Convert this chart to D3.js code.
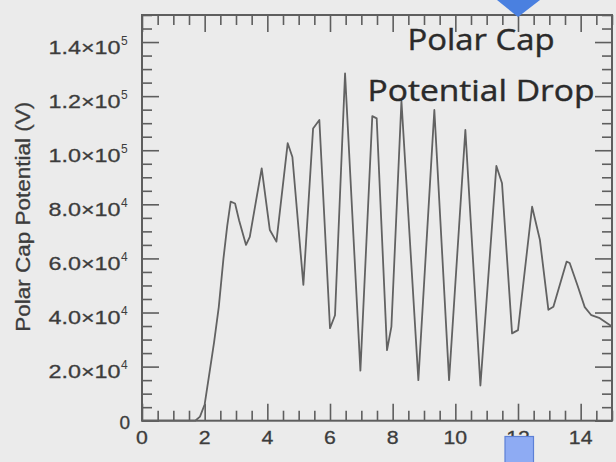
<!DOCTYPE html>
<html>
<head>
<meta charset="utf-8">
<script src="https://cdn.jsdelivr.net/npm/d3@7/dist/d3.min.js"></script>
<style>
  html, body { margin: 0; padding: 0; background: #ebebeb; }
  svg { display: block; }
</style>
</head>
<body>
<svg id="chart" width="616" height="462"></svg>
<script>
// Time (hours) and cross polar cap potential (V)
const hours = [0, 1.7, 1.85, 2.0, 2.17, 2.3, 2.45, 2.6, 2.72, 2.83, 2.97, 3.1, 3.32, 3.44,
  3.82, 4.08, 4.29, 4.65, 4.8, 5.15, 5.46, 5.66, 6.0, 6.16, 6.48, 6.97, 7.35, 7.49,
  7.82, 7.96, 8.28, 8.82, 9.33, 9.8, 10.32, 10.8, 11.31, 11.49, 11.81, 12.0, 12.45,
  12.7, 12.97, 13.13, 13.55, 13.65, 13.9, 14.13, 14.34, 14.61, 15.0];
const potential = [0, 0, 1500, 6000, 19000, 29000, 42000, 60000, 72000, 81000, 80300, 74000,
  65000, 68000, 93300, 70500, 66200, 102600, 97500, 50200, 108000, 111200, 34200, 39000,
  128400, 18500, 112600, 111800, 26100, 34800, 118200, 15000, 114900, 15000, 107500,
  13000, 94200, 87800, 32300, 33500, 79100, 66800, 41000, 42100, 58800, 58300, 50000,
  42000, 39000, 37900, 34800];

const xMajorTicks = [0, 2, 4, 6, 8, 10, 12, 14];
const xTickLabels = ["0", "2", "4", "6", "8", "10", "12", "14"];
const yMajorTicks = [0, 20000, 40000, 60000, 80000, 100000, 120000, 140000];
const yTickMantissa = ["0", "2.0", "4.0", "6.0", "8.0", "1.0", "1.2", "1.4"];
const yTickExponent = ["", "4", "4", "4", "4", "5", "5", "5"];
const yTitle = "Polar Cap Potential (V)";
const noteLines = ["Polar Cap", "Potential Drop"];

const svg = d3.select("#chart");
const plotL = 142, plotR = 612, plotT = 15, plotB = 420.7;

const x = d3.scaleLinear().domain([0, 15]).range([plotL, plotR]);
const y = d3.scaleLinear().domain([0, 150000]).range([plotB, plotT]);

const axisColor = "#5e5e5e";
const xMinor = d3.range(0, 15.001, 0.5).filter(v => v % 2 !== 0);
const yMinor = d3.range(0, 150001, 5000).filter(v => v % 20000 !== 0);

function styleAxis(g) {
  g.select(".domain").remove();
  g.selectAll("line").attr("stroke", axisColor).attr("stroke-width", 1.6);
  g.selectAll("text").remove();
}

// Ticks point inward on all four sides
svg.append("g").attr("transform", `translate(0,${plotB})`)
  .call(d3.axisBottom(x).tickValues(xMajorTicks).tickSize(-17)).call(styleAxis);
svg.append("g").attr("transform", `translate(0,${plotB})`)
  .call(d3.axisBottom(x).tickValues(xMinor).tickSize(-10)).call(styleAxis);
svg.append("g").attr("transform", `translate(0,${plotT})`)
  .call(d3.axisTop(x).tickValues(xMajorTicks).tickSize(-17)).call(styleAxis);
svg.append("g").attr("transform", `translate(0,${plotT})`)
  .call(d3.axisTop(x).tickValues(xMinor).tickSize(-10)).call(styleAxis);
svg.append("g").attr("transform", `translate(${plotL},0)`)
  .call(d3.axisLeft(y).tickValues(yMajorTicks).tickSize(-17)).call(styleAxis);
svg.append("g").attr("transform", `translate(${plotL},0)`)
  .call(d3.axisLeft(y).tickValues(yMinor).tickSize(-10)).call(styleAxis);
svg.append("g").attr("transform", `translate(${plotR},0)`)
  .call(d3.axisRight(y).tickValues(yMajorTicks).tickSize(-17)).call(styleAxis);
svg.append("g").attr("transform", `translate(${plotR},0)`)
  .call(d3.axisRight(y).tickValues(yMinor).tickSize(-10)).call(styleAxis);

// Frame
svg.append("rect")
  .attr("x", plotL).attr("y", plotT)
  .attr("width", plotR - plotL).attr("height", plotB - plotT)
  .attr("fill", "none").attr("stroke", axisColor).attr("stroke-width", 2);

// Potential curve
const line = d3.line().x((d, i) => x(hours[i])).y(d => y(d));
svg.append("path")
  .datum(potential)
  .attr("d", line)
  .attr("fill", "none")
  .attr("stroke", "#626262")
  .attr("stroke-width", 1.8)
  .attr("stroke-linejoin", "round");

const labelFont = "'Liberation Sans', Arial, Helvetica, sans-serif";
const labelColor = "#3c3c3c";

// X tick labels
svg.append("g").selectAll("text")
  .data(xMajorTicks)
  .join("text")
  .attr("transform", d => `translate(${x(d)},443.5) scale(1.12,1)`)
  .attr("text-anchor", "middle")
  .attr("font-family", labelFont)
  .attr("font-size", 19)
  .attr("fill", labelColor)
  .attr("stroke", labelColor).attr("stroke-width", 0.3)
  .text((d, i) => xTickLabels[i]);

// Y tick labels: mantissa ×10 with superscript exponent
const yl = svg.append("g");
yMajorTicks.forEach((v, i) => {
  const ty = y(v);
  if (yTickExponent[i] === "") {
    yl.append("text")
      .attr("x", 130).attr("y", ty + 8)
      .attr("text-anchor", "end")
      .attr("font-family", labelFont).attr("font-size", 19)
      .attr("fill", labelColor)
      .attr("stroke", labelColor).attr("stroke-width", 0.3)
      .text(yTickMantissa[i]);
    return;
  }
  yl.append("text")
    .attr("x", 48.5).attr("y", ty + 11.5)
    .attr("font-family", labelFont).attr("font-size", 19)
    .attr("fill", labelColor)
    .attr("stroke", labelColor).attr("stroke-width", 0.3)
    .attr("textLength", 72).attr("lengthAdjust", "spacingAndGlyphs")
    .text(yTickMantissa[i] + "\u00d710");
  yl.append("text")
    .attr("x", 121).attr("y", ty + 2.5)
    .attr("font-family", labelFont).attr("font-size", 12)
    .attr("fill", labelColor)
    .text(yTickExponent[i]);
});

// Y axis title
svg.append("text")
  .attr("transform", "translate(30,216.7) rotate(-90)")
  .attr("text-anchor", "middle")
  .attr("font-family", labelFont).attr("font-size", 20)
  .attr("fill", labelColor)
  .attr("stroke", labelColor).attr("stroke-width", 0.3)
  .attr("textLength", 230).attr("lengthAdjust", "spacingAndGlyphs")
  .text(yTitle);

// Annotation
const noteY = [50, 101];
const noteW = [147, 227];
svg.append("g").selectAll("text")
  .data(noteLines)
  .join("text")
  .attr("x", (d, i) => 481 - noteW[i] / 2)
  .attr("y", (d, i) => noteY[i])
  .attr("font-family", "'Open Sans', sans-serif")
  .attr("font-size", 29)
  .attr("fill", "#2a2a2a")
  .attr("stroke", "#2a2a2a").attr("stroke-width", 0.4)
  .attr("textLength", (d, i) => noteW[i])
  .attr("lengthAdjust", "spacingAndGlyphs")
  .text(d => d);

// Slide markers
svg.append("polygon")
  .attr("points", "497,0 540,0 518,17")
  .attr("fill", "#4a80e0");
svg.append("rect")
  .attr("x", 505).attr("y", 436.5)
  .attr("width", 28.5).attr("height", 30)
  .attr("fill", "#8eabf3")
  .attr("stroke", "#5d80d6").attr("stroke-width", 1.2);
</script>
</body>
</html>
